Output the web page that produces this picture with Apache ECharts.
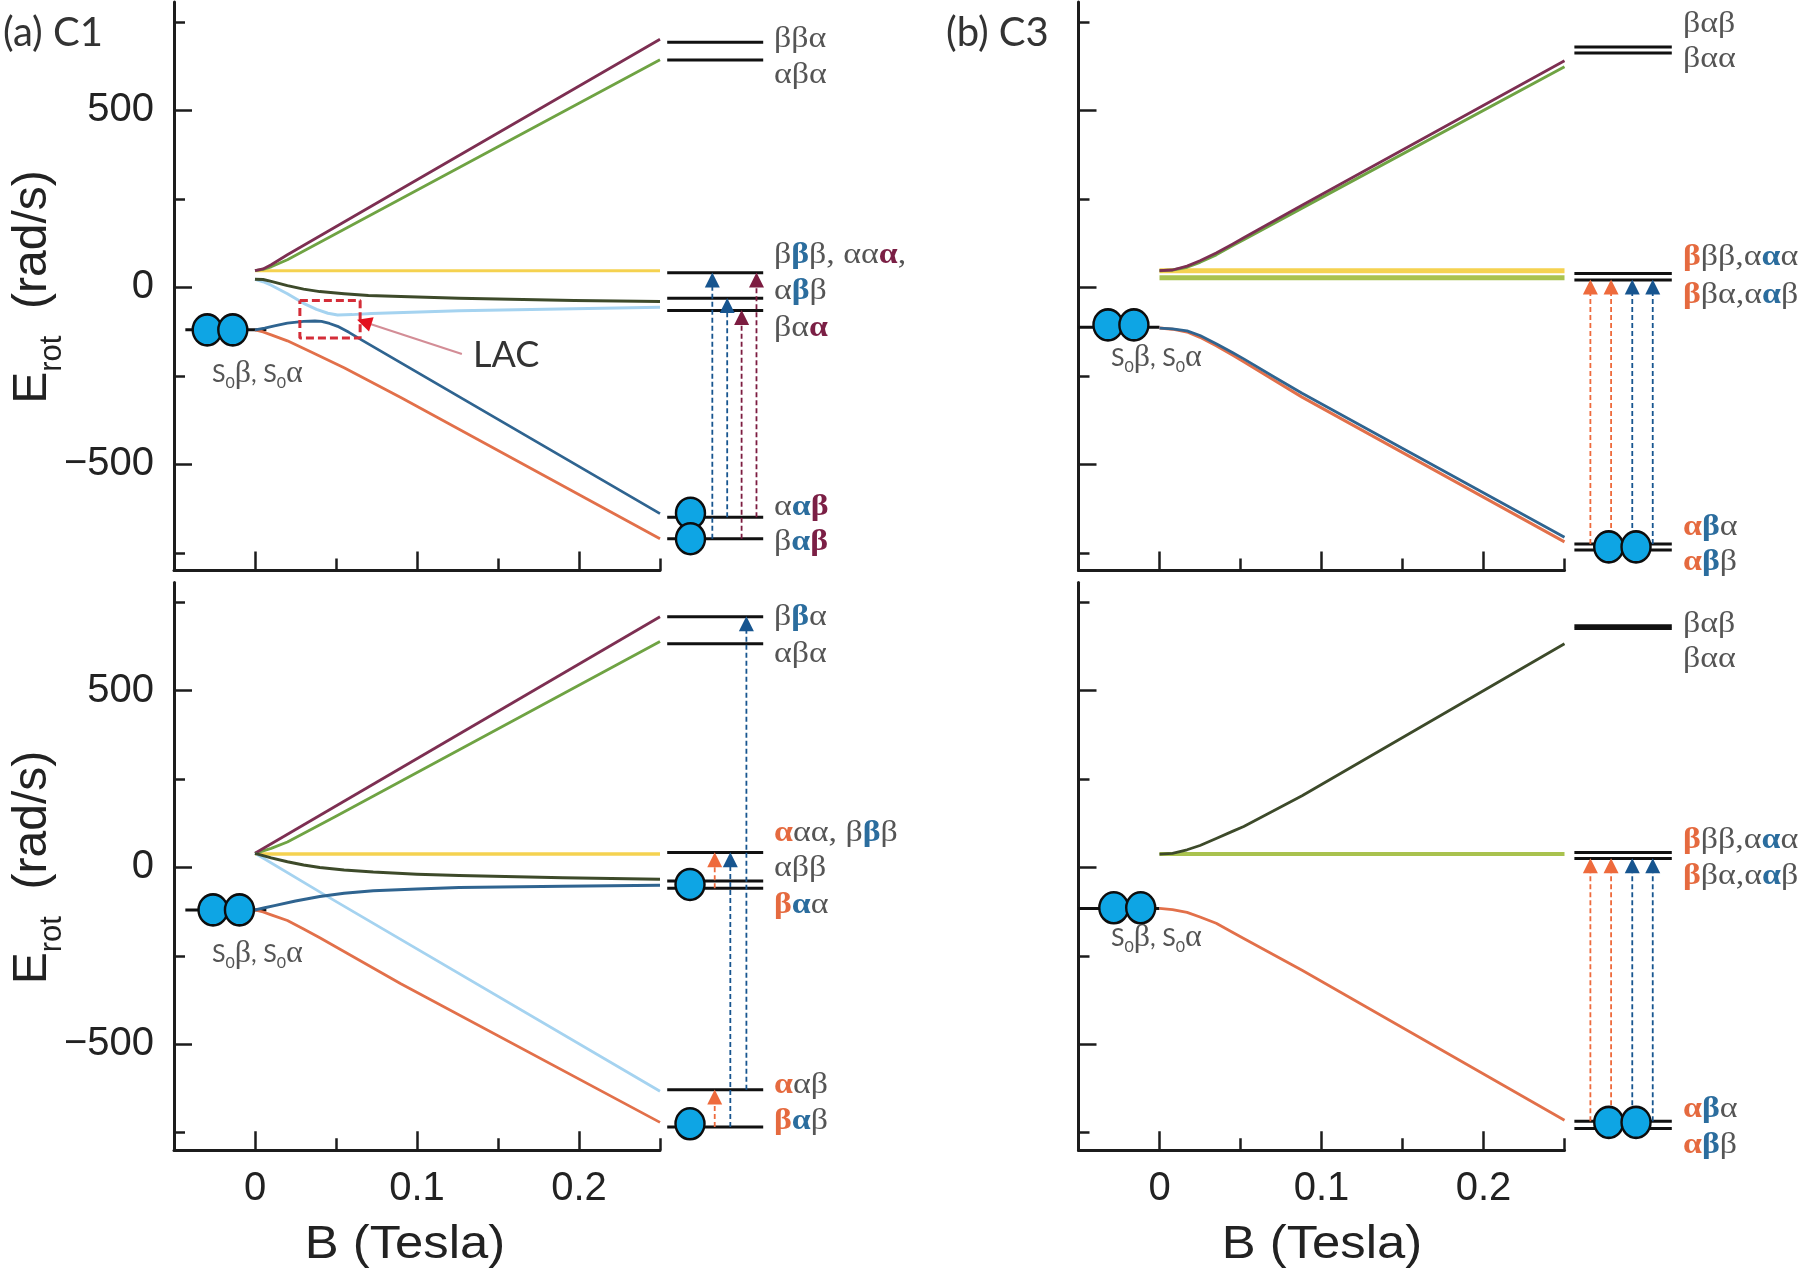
<!DOCTYPE html>
<html><head><meta charset="utf-8">
<style>html,body{margin:0;padding:0;background:#fff}#c{width:1800px;height:1273px}</style>
<script src="https://cdn.jsdelivr.net/npm/echarts@6/dist/echarts.min.js"></script>
</head><body><div id="c"></div>
<script>
// ---- curves: [B (Tesla), E (rad/s)] ----
const a1Maroon=[[0,47],[0.005,52],[0.01,64],[0.02,92],[0.25,701]];
const a1Green=[[0,47],[0.005,51],[0.01,58],[0.02,78],[0.25,643]];
const a1Yellow=[[0,47],[0.25,47]];
const a1Olive=[[0,23],[0.005,22],[0.01,17],[0.02,5],[0.03,-5],[0.04,-12],[0.055,-18],[0.07,-23],[0.09,-26],[0.126,-31],[0.197,-37],[0.25,-40]];
const a1Sky=[[0,23],[0.005,16],[0.01,6],[0.02,-18],[0.03,-45],[0.038,-62],[0.045,-73],[0.051,-78],[0.06,-77],[0.072,-74],[0.126,-66],[0.25,-56]];
const a1Blue=[[0,-120],[0.006,-115],[0.012,-109],[0.02,-101],[0.03,-96],[0.037,-95],[0.041,-96],[0.046,-102],[0.051,-110],[0.058,-127],[0.066,-149],[0.25,-639]];
const a1Orange=[[0,-120],[0.005,-126],[0.01,-134],[0.02,-151],[0.035,-183],[0.055,-227],[0.09,-311],[0.25,-710]];

const a2Maroon=[[0,40],[0.25,709]];
const a2Green=[[0,40],[0.01,54],[0.02,72],[0.05,145],[0.25,639]];
const a2Yellow=[[0,38],[0.25,38]];
const a2Olive=[[0,40],[0.01,27],[0.02,16],[0.03,7],[0.04,0],[0.055,-7],[0.073,-13],[0.1,-19],[0.126,-23],[0.19,-29],[0.25,-33]];
const a2Sky=[[0,40],[0.0425,-76],[0.25,-633]];
const a2Blue=[[0,-120],[0.006,-114],[0.012,-108],[0.025,-95],[0.04,-82],[0.055,-73],[0.073,-66],[0.1,-61],[0.126,-57],[0.19,-53],[0.25,-50]];
const a2Orange=[[0,-120],[0.005,-126],[0.01,-134],[0.02,-150],[0.03,-174],[0.04,-199],[0.09,-329],[0.25,-721]];

const b1Maroon=[[0,47],[0.008,49],[0.017,60],[0.025,75],[0.035,97],[0.045,122],[0.052,140],[0.088,232],[0.25,640]];
const b1Green=[[0,47],[0.008,49],[0.017,57],[0.025,71],[0.035,92],[0.045,118],[0.052,135],[0.088,224],[0.25,623]];
const b1Yellow=[[0,47],[0.25,47]];
const b1Lime=[[0,27],[0.25,27]];
const b1Blue=[[0,-115],[0.008,-117],[0.017,-123],[0.025,-136],[0.035,-159],[0.045,-184],[0.052,-202],[0.07,-251],[0.088,-299],[0.25,-706]];
const b1Orange=[[0,-115],[0.008,-118],[0.017,-126],[0.025,-141],[0.035,-165],[0.045,-191],[0.052,-210],[0.07,-260],[0.088,-310],[0.25,-719]];

const b2Olive=[[0,38],[0.008,40],[0.017,50],[0.025,62],[0.035,82],[0.045,102],[0.052,116],[0.088,203],[0.25,633]];
const b2Lime=[[0,38],[0.25,38]];
const b2Orange=[[0,-116],[0.008,-119],[0.017,-127],[0.025,-140],[0.035,-158],[0.045,-183],[0.052,-201],[0.088,-291],[0.25,-715]];

// ---- energy levels on the right of each panel (rad/s) ----
const a1Levels=[692,642,41,-31,-65,-649,-710];
const a2Levels=[709,633,42,-38,-59,-629,-734];
const b1Levels=[679,662,39,21,-725,-742];
const b2Levels=[684,676,42,25,-718,-738];

// ---- transitions: [diagram x, from E, to E, colour key] ----
const a1Arrows=[[21.8,-710,41,'blue'],[28,-649,-31,'blue'],[34,-710,-65,'maroon'],[40.2,-649,41,'maroon']];
const a2Arrows=[[22.8,-59,42,'orange'],[22.8,-734,-629,'orange'],[29.3,-734,42,'blue'],[36,-629,709,'blue']];
const b1Arrows=[[11,-725,21,'orange'],[19.8,-725,21,'orange'],[28.8,-725,21,'blue'],[37.5,-725,21,'blue']];
const b2Arrows=[[11,-718,25,'orange'],[19.8,-718,25,'orange'],[28.8,-718,25,'blue'],[37.5,-718,25,'blue']];

// ---- occupied levels (circles) ----
const a1LeftDots=[[-0.0295,-120],[-0.0137,-120]], a1RightDots=[[12.7,-638],[12.7,-710]];
const a2LeftDots=[[-0.0259,-120],[-0.0096,-120]], a2RightDots=[[12.5,-48],[12.5,-725]];
const b1LeftDots=[[-0.0318,-106],[-0.0158,-106]], b1RightDots=[[18.8,-733],[30.4,-733]];
const b2LeftDots=[[-0.0282,-114],[-0.0116,-114]], b2RightDots=[[18.8,-721],[30.4,-721]];
const a1Ground=-120,a2Ground=-120,b1Ground=-113,b2Ground=-116;

// ---- LAC annotation ----
const lacBox=[[0.0277,-37],[0.0649,-37],[0.0649,-143],[0.0277,-143],[0.0277,-37]];
const lacArrow=[[0.1277,-188],[0.0674,-98]];

// ---- ticks ----
const yMajor=[-500,0,500], yMinor=[-750,-250,250,750];
const xMajor=[0,0.1,0.2], xMinor=[0.05,0.15,0.25];

// ---- spin state labels ----
const a1Labels=['{n|ββα}','{n|αβα}','{n|β}{bl|β}{n|β, αα}{ma|α}{n|,}','{n|α}{bl|β}{n|β}','{n|βα}{ma|α}','{n|α}{bl|α}{ma|β}','{n|β}{bl|α}{ma|β}'];
const a2Labels=['{n|β}{bl|β}{n|α}','{n|αβα}','{or|α}{n|αα, β}{bl|β}{n|β}','{n|αββ}','{or|β}{bl|α}{n|α}','{or|α}{n|αβ}','{or|β}{bl|α}{n|β}'];
const b1Labels=['{n|βαβ}','{n|βαα}','{or|β}{n|ββ,α}{bl|α}{n|α}','{or|β}{n|βα,α}{bl|α}{n|β}','{or|α}{bl|β}{n|α}','{or|α}{bl|β}{n|β}'];
const b2Labels=b1Labels.slice();

const C={maroon:'#7d2f52',green:'#6fa343',yellow:'#f5d250',olive:'#3d4a2a',sky:'#a5d3f0',blue:'#2f6490',orange:'#e2704a',lime:'#a9c24e',
  dotFill:'#0ea5e4',arrowBlue:'#17558f',arrowMaroon:'#7c1c40',arrowOrange:'#ee6a3c',axis:'#1c1c1c'};
const arrowColor={blue:C.arrowBlue,maroon:C.arrowMaroon,orange:C.arrowOrange};

const yMin=-800,yMax=806;
const grids=[],xAxes=[],yAxes=[],series=[],graphic=[];

function panel(cfg){
  const gi=grids.length;
  const xMain=xAxes.length,yMain=yAxes.length;
  grids.push({left:cfg.left,top:cfg.top,width:486,height:cfg.h});
  const axisLine={show:true,onZero:false,lineStyle:{color:C.axis,width:3}};
  xAxes.push({gridIndex:gi,type:'value',min:-0.05,max:0.25,position:'bottom',splitLine:{show:false},axisLine,
    axisTick:{show:true,inside:true,length:19,lineStyle:{color:C.axis,width:2.5},customValues:xMajor},
    axisLabel:{show:cfg.xl,margin:19,customValues:xMajor,color:'#222',fontFamily:'Liberation Sans',fontSize:40,formatter:v=>String(+v.toFixed(2))}});
  xAxes.push({gridIndex:gi,type:'value',min:-0.05,max:0.25,position:'bottom',splitLine:{show:false},axisLine:{show:false,onZero:false},
    axisTick:{show:true,inside:true,length:12,lineStyle:{color:C.axis,width:2.5},customValues:xMinor},axisLabel:{show:false}});
  yAxes.push({gridIndex:gi,type:'value',min:yMin,max:yMax,position:'left',splitLine:{show:false},axisLine,
    axisTick:{show:true,inside:true,length:18,lineStyle:{color:C.axis,width:2.5},customValues:yMajor},
    axisLabel:{show:cfg.yl,margin:20,padding:[3,0,0,0],customValues:yMajor,color:'#222',fontFamily:'Liberation Sans',fontSize:40,formatter:v=>String(v).replace('-','−')}});
  yAxes.push({gridIndex:gi,type:'value',min:yMin,max:yMax,position:'left',splitLine:{show:false},axisLine:{show:false,onZero:false},
    axisTick:{show:true,inside:true,length:11,lineStyle:{color:C.axis,width:2.5},customValues:yMinor},axisLabel:{show:false}});
  const di=grids.length;
  grids.push({left:cfg.left+486,top:cfg.top,width:cfg.dw,height:cfg.h});
  const xD=xAxes.length,yD=yAxes.length;
  xAxes.push({gridIndex:di,type:'value',min:0,max:100,show:false});
  yAxes.push({gridIndex:di,type:'value',min:yMin,max:yMax,show:false});

  const line=(data,color,width,extra)=>series.push(Object.assign({type:'line',xAxisIndex:xMain,yAxisIndex:yMain,data,symbol:'none',smooth:false,clip:false,
     lineStyle:{color,width,join:'round'},silent:true,animation:false},extra||{}));
  line([[cfg.stub[0],cfg.ground],[cfg.stub[1],cfg.ground]],'#111',3,{z:3});
  cfg.curves.forEach(c=>line(c[0],c[1],c[2]||2.8,{z:c[3]||4}));
  cfg.levels.forEach(v=>series.push({type:'line',xAxisIndex:xD,yAxisIndex:yD,symbol:'none',data:[[cfg.lx[0],v],[cfg.lx[1],v]],
     lineStyle:{color:'#111',width:3},silent:true,animation:false,z:3}));
  cfg.arrows.forEach(a=>{
    const col=arrowColor[a[3]];
    series.push({type:'line',xAxisIndex:xD,yAxisIndex:yD,symbol:'none',data:[[a[0],a[1]],[a[0],a[2]-30]],
      lineStyle:{color:col,width:1.8,type:[5,3]},silent:true,animation:false,z:4});
    series.push({type:'scatter',xAxisIndex:xD,yAxisIndex:yD,symbol:'triangle',symbolSize:[15,15],data:[[a[0],a[2]-20]],
      itemStyle:{color:col,opacity:1},silent:true,animation:false,z:5});
  });
  const dotStyle={color:C.dotFill,borderColor:'#0d0d0d',borderWidth:2.5,opacity:1};
  series.push({type:'scatter',xAxisIndex:xMain,yAxisIndex:yMain,symbolSize:[29,31],data:cfg.ldots,itemStyle:dotStyle,silent:true,animation:false,z:6,clip:false});
  series.push({type:'scatter',xAxisIndex:xD,yAxisIndex:yD,symbolSize:[29,31],data:cfg.rdots,itemStyle:dotStyle,silent:true,animation:false,z:6,clip:false});
  const rich={n:{fill:'#555'},bl:{fill:'#2b6d9e',fontWeight:'bold'},ma:{fill:'#7b1f45',fontWeight:'bold'},or:{fill:'#e56a3f',fontWeight:'bold'}};
  Object.keys(rich).forEach(k=>{rich[k].fontFamily='Liberation Serif';rich[k].fontSize=30;rich[k].lineHeight=32;});
  cfg.labels.forEach((t,i)=>graphic.push({type:'text',x:cfg.labelX,y:cfg.labelY[i],scaleX:1.13,silent:true,
    style:{text:t,rich,verticalAlign:'middle',font:'30px Liberation Serif',fill:'#555'}}));
  const sr={m:{fontFamily:'Lato',fontSize:25,fill:'#555',lineHeight:28},g:{fontFamily:'Liberation Serif',fontSize:32,fill:'#555',lineHeight:28},
    s:{fontFamily:'Lato',fontSize:16,fill:'#555',lineHeight:28,verticalAlign:'bottom',padding:[0,0,-3,0]}};
  graphic.push({type:'text',left:cfg.sx,top:cfg.sy-16,silent:true,style:{text:'{m|S}{s|0}{g|β}{m|, S}{s|0}{g|α}',rich:sr,font:'25px Lato'}});
  if(cfg.yl){
    graphic.push({type:'text',silent:true,x:33,y:cfg.top+cfg.ty,rotation:Math.PI/2,
      style:{text:'{E|E}{r|rot}{E|  (rad/s)}',align:'center',verticalAlign:'middle',
        rich:{E:{fontFamily:'Liberation Sans',fontSize:48,fill:'#222',lineHeight:54},r:{fontFamily:'Liberation Sans',fontSize:31,fill:'#222',lineHeight:54,verticalAlign:'bottom',padding:[0,0,-8,0]}}}});
  }
  if(cfg.xl){
    graphic.push({type:'text',silent:true,x:cfg.tx,y:1245,scaleX:1.08,
      style:{text:'B (Tesla)',align:'center',verticalAlign:'middle',font:'47px Liberation Sans',fill:'#222'}});
  }
}

panel({left:174,top:2,h:568.6,dw:240,xl:false,yl:true,ty:285,ground:a1Ground,stub:[-0.043,0.007],
  curves:[[a1Yellow,C.yellow,3],[a1Green,C.green],[a1Maroon,C.maroon],[a1Sky,C.sky,3],[a1Olive,C.olive,3],[a1Orange,C.orange],[a1Blue,C.blue]],
  levels:a1Levels,lx:[3,43],arrows:a1Arrows,ldots:a1LeftDots,rdots:a1RightDots,
  labels:a1Labels,labelX:774,labelY:[39,75,255,291,328,507,542],sx:212,sy:374});
panel({left:174,top:582.5,h:567.8,dw:240,xl:true,yl:true,ty:285,tx:405,ground:a2Ground,stub:[-0.043,0.007],
  curves:[[a2Yellow,C.yellow,3.5],[a2Green,C.green],[a2Maroon,C.maroon],[a2Sky,C.sky],[a2Olive,C.olive,3],[a2Orange,C.orange],[a2Blue,C.blue,3]],
  levels:a2Levels,lx:[3,43],arrows:a2Arrows,ldots:a2LeftDots,rdots:a2RightDots,
  labels:a2Labels,labelX:774,labelY:[617,654,833,868,905,1085,1121],sx:212,sy:954});
panel({left:1078.5,top:2,h:568.6,dw:235.3,xl:false,yl:false,ground:b1Ground,stub:[-0.05,0.0],
  curves:[[b1Lime,C.lime,5],[b1Yellow,C.yellow,5],[b1Green,C.green,3],[b1Maroon,C.maroon],[b1Orange,C.orange,3],[b1Blue,C.blue]],
  levels:b1Levels,lx:[4.2,45.6],arrows:b1Arrows,ldots:b1LeftDots,rdots:b1RightDots,
  labels:b1Labels,labelX:1683,labelY:[24,59,257,295,527,562],sx:1111,sy:358});
panel({left:1078.5,top:582.5,h:567.8,dw:235.3,xl:true,yl:false,tx:1322,ground:b2Ground,stub:[-0.05,0.0],
  curves:[[b2Lime,C.lime,4],[b2Olive,C.olive],[b2Orange,C.orange]],
  levels:b2Levels,lx:[4.2,45.6],arrows:b2Arrows,ldots:b2LeftDots,rdots:b2RightDots,
  labels:b2Labels,labelX:1683,labelY:[624,659,840,876,1109,1145],sx:1111,sy:938});

series.push({type:'line',xAxisIndex:0,yAxisIndex:0,data:lacBox,symbol:'none',lineStyle:{color:'#d42d38',width:3,type:[8,4]},silent:true,animation:false,z:7});
series.push({type:'line',xAxisIndex:0,yAxisIndex:0,data:lacArrow,symbol:'none',lineStyle:{color:'#d38d96',width:2.2},silent:true,animation:false,z:7});
series.push({type:'scatter',xAxisIndex:0,yAxisIndex:0,data:[lacArrow[1]],symbol:'triangle',symbolSize:15,symbolRotate:72,itemStyle:{color:'#e3101e',opacity:1},silent:true,animation:false,z:8});

graphic.push({type:'text',left:3,top:13,silent:true,style:{text:'(a) C1',font:'40px Lato',fill:'#333'}});
graphic.push({type:'text',left:946,top:13,silent:true,style:{text:'(b) C3',font:'40px Lato',fill:'#333'}});
graphic.push({type:'text',left:473,top:337,silent:true,style:{text:'LAC',font:'36px Lato',fill:'#333'}});

const chart=echarts.init(document.getElementById('c'),null,{renderer:'canvas'});
chart.setOption({animation:false,backgroundColor:'#fff',grid:grids,xAxis:xAxes,yAxis:yAxes,series,graphic});
</script></body></html>
